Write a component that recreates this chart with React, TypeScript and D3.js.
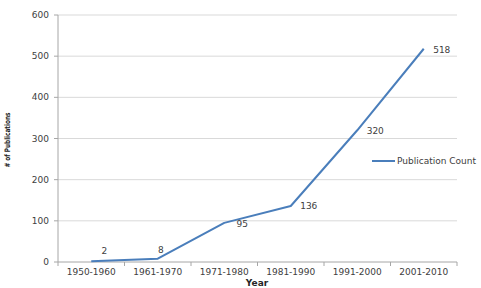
import React from "react";
import * as d3 from "d3";

const categories = ["1950-1960", "1961-1970", "1971-1980", "1981-1990", "1991-2000", "2001-2010"];
const counts = [2, 8, 95, 136, 320, 518];
const yTicks = [0, 100, 200, 300, 400, 500, 600];
const seriesName = "Publication Count";

// label offsets (layout only)
const labelDx = [13, 3, 18, 18, 18, 18];
const labelDy = [-10, -9, 1, 0, 1, 1];

const W = 481, H = 288;
const left = 58, right = 457, top = 15, bottom = 262;

export default function App() {
  const x = d3.scaleBand<string>().domain(categories).range([left, right]);
  const y = d3.scaleLinear().domain([0, 600]).range([bottom, top]);
  const line = d3.line<number>()
    .x((_, i) => (x(categories[i]) as number) + x.bandwidth() / 2)
    .y((d) => y(d));
  const font = "DejaVu Sans, sans-serif";
  const txt = "#404040";
  return (
    <svg width={W} height={H} style={{ position: "absolute", left: 0, top: 0 }} fontFamily={font}>
      <rect width={W} height={H} fill="#fff" />
      {yTicks.map((t) => (
        <g key={t}>
          {t > 0 && <line x1={left} x2={right} y1={y(t)} y2={y(t)} stroke="#d9d9d9" strokeWidth={1} />}
          <line x1={left - 4} x2={left} y1={y(t)} y2={y(t)} stroke="#a6a6a6" />
          <text x={49} y={y(t)} dy="0.35em" textAnchor="end" fontSize={9} fill={txt}>{t}</text>
        </g>
      ))}
      <line x1={left} x2={left} y1={top} y2={bottom} stroke="#a6a6a6" />
      <line x1={left} x2={right} y1={bottom} y2={bottom} stroke="#a6a6a6" />
      {categories.map((c, i) => (
        <g key={c}>
          <line x1={(x(c) as number) + x.bandwidth()} x2={(x(c) as number) + x.bandwidth()} y1={bottom} y2={bottom + 4} stroke="#a6a6a6" />
          {i === 0 && <line x1={left} x2={left} y1={bottom} y2={bottom + 4} stroke="#a6a6a6" />}
          <text x={(x(c) as number) + x.bandwidth() / 2} y={275} textAnchor="middle" fontSize={9} fill={txt}>{c}</text>
        </g>
      ))}
      <path d={line(counts) as string} fill="none" stroke="#4a7ebb" strokeWidth={2} strokeLinejoin="round" />
      {counts.map((v, i) => (
        <text key={i} x={(x(categories[i]) as number) + x.bandwidth() / 2 + labelDx[i]} y={y(v) + labelDy[i]} dy="0.35em" textAnchor="middle" fontSize={9} fill={txt}>{v}</text>
      ))}
      <line x1={372} x2={395} y1={161} y2={161} stroke="#4a7ebb" strokeWidth={2} />
      <text x={397} y={161} dy="0.35em" fontSize={9} fill={txt}>{seriesName}</text>
      <text x={257} y={286} textAnchor="middle" fontSize={9} fontWeight="bold" fill="#262626">Year</text>
      <text transform="translate(10,140) rotate(-90)" textAnchor="middle" fontSize={7.5} fontWeight="bold" fill="#262626" textLength={55} lengthAdjust="spacingAndGlyphs">
        # of Publications
      </text>
    </svg>
  );
}
